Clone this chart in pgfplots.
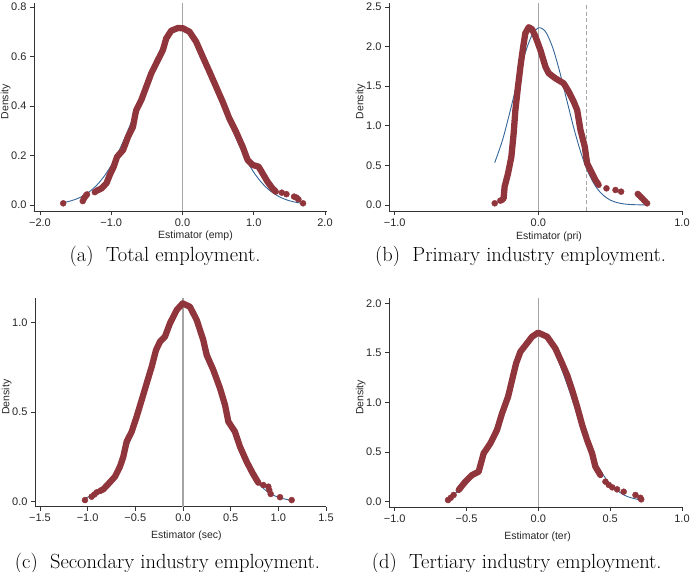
\documentclass[border=0pt]{standalone}
\usepackage{fontspec}
\usepackage{pgfplots}
\pgfplotsset{compat=1.18}
\newfontfamily\stsans{Liberation Sans}
\definecolor{kred}{RGB}{144,53,59}
\definecolor{nblue}{RGB}{52,102,152}
\definecolor{zline}{RGB}{165,165,165}
\pgfplotsset{
 stata/.style={
  scale only axis, axis lines=left, axis line style={-, line width=0.8pt, black!80},
  tick align=outside, major tick length=4pt, tick style={line width=0.8pt, black!80},
  ticklabel style={font=\stsans\fontsize{11}{13}\selectfont, black!85},
  ylabel=Density,
  every axis y label/.style={at={(axis description cs:-0.097,0.525)}, anchor=center, rotate=90, font=\stsans\fontsize{10.5}{12}\selectfont, black!85},
 },
 xl/.style n args={2}{every axis x label/.style={at={(axis description cs:#1,0)}, anchor=center, yshift=#2, font=\stsans\fontsize{10.5}{12}\selectfont, black!85}},
 kde/.style={kred, line width=6.3pt, line join=round, line cap=round},
 dots/.style={only marks, mark=*, mark size=3pt, mark options={draw=kred, fill=kred}},
 norm/.style={nblue, line width=0.9pt, smooth},
 zero/.style={zline, line width=1.2pt},
}
\begin{document}
\begin{tikzpicture}[x=1pt,y=1pt]
\useasboundingbox (0,0) rectangle (690,572);
% ---------------- (a)
\begin{axis}[stata, at={(34pt,361pt)}, anchor=south west, width=292.5pt, height=208pt,
  xmin=-2.084, xmax=2.021, ymin=-0.024, ymax=0.816,
  xtick={-2,-1,0,1,2}, xticklabels={−2.0,−1.0,0.0,1.0,2.0},
  ytick={0,0.2,0.4,0.6,0.8}, yticklabels={0.0,0.2,0.4,0.6,0.8},
  xlabel={Estimator (emp)}, xl={0.552}{-25pt}]
\addplot[zero] coordinates {(0,-0.024) (0,0.816)};
\addplot[norm] coordinates {(-1.674,0.0098) (-1.6,0.0143) (-1.5,0.0232) (-1.4,0.0364) (-1.3,0.0553) (-1.2,0.0813) (-1.1,0.1159) (-1.0,0.1601) (-0.9,0.2143) (-0.8,0.2778) (-0.7,0.3488) (-0.6,0.4245) (-0.5,0.5005) (-0.4,0.5717) (-0.3,0.6326) (-0.2,0.6782) (-0.1,0.7045) (0.0,0.7090) (0.1,0.6912) (0.2,0.6530) (0.3,0.5976) (0.4,0.5298) (0.5,0.4551) (0.6,0.3788) (0.7,0.3054) (0.8,0.2386) (0.9,0.1806) (1.0,0.1324) (1.1,0.0941) (1.2,0.0647) (1.3,0.0432) (1.4,0.0279) (1.5,0.0174) (1.6,0.0106) (1.692,0.0065)};
\addplot[kde] coordinates {(-1.21,0.057) (-1.137,0.067) (-1.067,0.088) (-1.021,0.121) (-0.965,0.155) (-0.918,0.195) (-0.834,0.222) (-0.764,0.276) (-0.695,0.316) (-0.66,0.37) (-0.648,0.384) (-0.578,0.424) (-0.508,0.478) (-0.438,0.532) (-0.345,0.586) (-0.275,0.626) (-0.228,0.673) (-0.158,0.704) (-0.065,0.715) (0.005,0.714) (0.098,0.700) (0.191,0.660) (0.284,0.599) (0.378,0.539) (0.471,0.478) (0.564,0.417) (0.657,0.350) (0.751,0.296) (0.844,0.236) (0.914,0.182) (0.984,0.162) (1.068,0.155) (1.124,0.128) (1.194,0.094) (1.263,0.067) (1.310,0.054)};
\addplot[dots] coordinates {(-1.674,0.007) (-1.40,0.016) (-1.385,0.025) (-1.37,0.032) (-1.355,0.038) (-1.34,0.043) (-1.23,0.052) (1.394,0.050) (1.459,0.044) (1.566,0.034) (1.60,0.030) (1.627,0.023) (1.692,0.007)};
\end{axis}
% ---------------- (b)
\begin{axis}[stata, at={(389pt,361pt)}, anchor=south west, width=293pt, height=208pt,
  xmin=-1.04, xmax=1.0, ymin=-0.076, ymax=2.55,
  xtick={-1,0,1}, xticklabels={−1.0,0.0,1.0},
  ytick={0,0.5,1,1.5,2,2.5}, yticklabels={0.0,0.5,1.0,1.5,2.0,2.5},
  xlabel={Estimator (pri)}, xl={0.546}{-25.7pt}]
\addplot[zero] coordinates {(0,-0.076) (0,2.55)};
\addplot[zline, line width=1pt, dash pattern=on 4pt off 2.5pt] coordinates {(0.334,-0.076) (0.334,2.55)};
\addplot[norm] coordinates {(-0.304,0.534) (-0.25,0.817) (-0.20,1.160) (-0.15,1.528) (-0.10,1.870) (-0.05,2.123) (0.00,2.237) (0.05,2.187) (0.10,1.985) (0.15,1.672) (0.20,1.307) (0.25,0.948) (0.30,0.638) (0.35,0.399) (0.40,0.231) (0.45,0.125) (0.50,0.062) (0.55,0.029) (0.60,0.012) (0.65,0.005) (0.70,0.002) (0.757,0.001)};
\addplot[kde] coordinates {(-0.255,0.06) (-0.242,0.084) (-0.235,0.231) (-0.211,0.400) (-0.188,0.610) (-0.172,0.905) (-0.160,1.199) (-0.142,1.494) (-0.125,1.746) (-0.109,1.957) (-0.091,2.168) (-0.067,2.244) (-0.044,2.218) (-0.021,2.13) (0.014,1.957) (0.049,1.746) (0.072,1.663) (0.118,1.599) (0.176,1.536) (0.211,1.431) (0.246,1.304) (0.270,1.199) (0.293,0.947) (0.323,0.736) (0.339,0.526) (0.362,0.442) (0.397,0.316) (0.420,0.253)};
\addplot[dots] coordinates {(-0.304,0.021) (-0.265,0.055) (0.474,0.210) (0.537,0.189) (0.576,0.168) (0.692,0.139) (0.70,0.125) (0.711,0.105) (0.722,0.085) (0.734,0.063) (0.745,0.042) (0.757,0.021)};
\end{axis}
% ---------------- (c)
\begin{axis}[stata, at={(35pt,65.3pt)}, anchor=south west, width=291pt, height=208.7pt,
  xmin=-1.552, xmax=1.5, ymin=-0.028, ymax=1.138,
  xtick={-1.5,-1,-0.5,0,0.5,1,1.5}, xticklabels={−1.5,−1.0,−0.5,0.0,0.5,1.0,1.5},
  ytick={0,0.5,1}, yticklabels={0.0,0.5,1.0},
  xlabel={Estimator (sec)}, xl={0.52}{-29pt}]
\addplot[zero] coordinates {(0,-0.028) (0,1.138)};
\addplot[norm] coordinates {(-1.028,0.0198) (-1.0,0.0246) (-0.9,0.0506) (-0.8,0.0966) (-0.7,0.1709) (-0.6,0.2800) (-0.5,0.4254) (-0.4,0.5988) (-0.3,0.7813) (-0.2,0.9449) (-0.1,1.0590) (0.0,1.10) (0.1,1.0590) (0.2,0.9449) (0.3,0.7813) (0.4,0.5988) (0.5,0.4254) (0.6,0.2800) (0.7,0.1709) (0.8,0.0966) (0.9,0.0506) (1.0,0.0246) (1.1,0.0111) (1.14,0.0079)};
\addplot[kde] coordinates {(-0.87,0.06) (-0.836,0.069) (-0.783,0.099) (-0.713,0.140) (-0.661,0.196) (-0.626,0.251) (-0.591,0.335) (-0.538,0.391) (-0.486,0.475) (-0.433,0.568) (-0.381,0.661) (-0.328,0.754) (-0.283,0.847) (-0.241,0.894) (-0.189,0.922) (-0.136,0.997) (-0.066,1.071) (-0.003,1.108) (0.073,1.089) (0.144,1.015) (0.213,0.903) (0.248,0.820) (0.318,0.736) (0.388,0.634) (0.441,0.540) (0.476,0.447) (0.545,0.391) (0.598,0.307) (0.668,0.223) (0.731,0.159) (0.790,0.106)};
\addplot[dots] coordinates {(-1.028,0.009) (-0.958,0.028) (-0.93,0.04) (-0.905,0.052) (0.843,0.093) (0.895,0.084) (0.905,0.065) (0.920,0.043) (1.018,0.025) (1.140,0.009)};
\end{axis}
% ---------------- (d)
\begin{axis}[stata, at={(389pt,65pt)}, anchor=south west, width=293pt, height=208.7pt,
  xmin=-1.04, xmax=1.0, ymin=-0.053, ymax=2.05,
  xtick={-1,-0.5,0,0.5,1}, xticklabels={−1.0,−0.5,0.0,0.5,1.0},
  ytick={0,0.5,1,1.5,2}, yticklabels={0.0,0.5,1.0,1.5,2.0},
  xlabel={Estimator (ter)}, xl={0.507}{-29.5pt}]
\addplot[zero] coordinates {(0,-0.053) (0,2.05)};
\addplot[norm] coordinates {(-0.629,0.0469) (-0.6,0.0648) (-0.5,0.176) (-0.4,0.398) (-0.3,0.751) (-0.2,1.1825) (-0.1,1.5526) (0.0,1.70) (0.1,1.5526) (0.2,1.1825) (0.3,0.751) (0.4,0.398) (0.5,0.176) (0.6,0.0648) (0.7,0.0199) (0.716,0.0162)};
\addplot[kde] coordinates {(-0.555,0.118) (-0.509,0.202) (-0.462,0.269) (-0.416,0.302) (-0.381,0.488) (-0.334,0.589) (-0.288,0.723) (-0.253,0.891) (-0.211,1.058) (-0.183,1.227) (-0.155,1.395) (-0.125,1.512) (-0.079,1.597) (-0.044,1.663) (-0.002,1.704) (0.061,1.663) (0.118,1.546) (0.165,1.395) (0.200,1.277) (0.235,1.126) (0.270,0.958) (0.305,0.773) (0.339,0.622) (0.374,0.488) (0.397,0.353) (0.432,0.269)};
\addplot[dots] coordinates {(-0.629,0.017) (-0.610,0.04) (-0.590,0.068) (0.467,0.202) (0.49,0.17) (0.514,0.145) (0.548,0.125) (0.594,0.101) (0.676,0.068) (0.71,0.04) (0.716,0.024)};
\end{axis}
% captions
\node[font=\fontsize{20.5}{24}\selectfont, anchor=base] at (165,310) {(a)\hskip0.6em Total employment.};
\node[font=\fontsize{20.5}{24}\selectfont, anchor=base] at (520.5,310) {(b)\hskip0.6em Primary industry employment.};
\node[font=\fontsize{20.5}{24}\selectfont, anchor=base] at (167.5,3) {(c)\hskip0.6em Secondary industry employment.};
\node[font=\fontsize{20.5}{24}\selectfont, anchor=base] at (516.7,3) {(d)\hskip0.6em Tertiary industry employment.};
\end{tikzpicture}
\end{document}
